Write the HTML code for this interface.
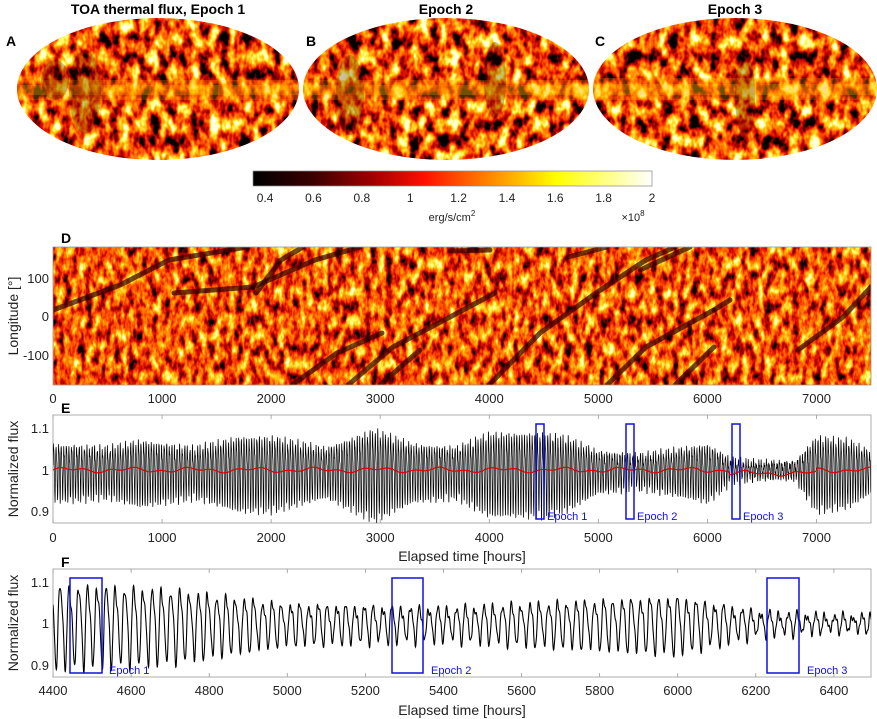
<!DOCTYPE html>
<html><head><meta charset="utf-8">
<style>
html,body{margin:0;padding:0;background:#fff;}
svg{display:block;font-family:"Liberation Sans",sans-serif;}
</style></head>
<body>
<svg id="s" width="877" height="719" viewBox="0 0 877 719" xmlns="http://www.w3.org/2000/svg">
<defs>
<filter id="hotA" x="0" y="0" width="100%" height="100%" color-interpolation-filters="sRGB">
 <feTurbulence type="fractalNoise" baseFrequency="0.1 0.06" numOctaves="3" seed="3"/>
 <feColorMatrix type="matrix" values="2.0 0 0 0 -0.57  2.0 0 0 0 -0.57  2.0 0 0 0 -0.57  0 0 0 0 1"/>
 <feComponentTransfer>
  <feFuncR type="table" tableValues="0 0.55 0.85 1 1 1 1 1"/>
  <feFuncG type="table" tableValues="0 0 0.05 0.3 0.55 0.8 1 1"/>
  <feFuncB type="table" tableValues="0 0 0 0 0 0.1 0.4 0.9"/>
 </feComponentTransfer>
</filter>
<filter id="hotB" x="0" y="0" width="100%" height="100%" color-interpolation-filters="sRGB">
 <feTurbulence type="fractalNoise" baseFrequency="0.1 0.06" numOctaves="3" seed="11"/>
 <feColorMatrix type="matrix" values="2.0 0 0 0 -0.57  2.0 0 0 0 -0.57  2.0 0 0 0 -0.57  0 0 0 0 1"/>
 <feComponentTransfer>
  <feFuncR type="table" tableValues="0 0.55 0.85 1 1 1 1 1"/>
  <feFuncG type="table" tableValues="0 0 0.05 0.3 0.55 0.8 1 1"/>
  <feFuncB type="table" tableValues="0 0 0 0 0 0.1 0.4 0.9"/>
 </feComponentTransfer>
</filter>
<filter id="hotC" x="0" y="0" width="100%" height="100%" color-interpolation-filters="sRGB">
 <feTurbulence type="fractalNoise" baseFrequency="0.1 0.06" numOctaves="3" seed="27"/>
 <feColorMatrix type="matrix" values="2.0 0 0 0 -0.57  2.0 0 0 0 -0.57  2.0 0 0 0 -0.57  0 0 0 0 1"/>
 <feComponentTransfer>
  <feFuncR type="table" tableValues="0 0.55 0.85 1 1 1 1 1"/>
  <feFuncG type="table" tableValues="0 0 0.05 0.3 0.55 0.8 1 1"/>
  <feFuncB type="table" tableValues="0 0 0 0 0 0.1 0.4 0.9"/>
 </feComponentTransfer>
</filter>
<filter id="hotD" x="0" y="0" width="100%" height="100%" color-interpolation-filters="sRGB">
 <feTurbulence type="fractalNoise" baseFrequency="0.14 0.07" numOctaves="3" seed="5"/>
 <feColorMatrix type="matrix" values="1.6 0 0 0 -0.36  1.6 0 0 0 -0.36  1.6 0 0 0 -0.36  0 0 0 0 1"/>
 <feComponentTransfer>
  <feFuncR type="table" tableValues="0 0.55 0.85 1 1 1 1 1"/>
  <feFuncG type="table" tableValues="0 0 0.05 0.3 0.55 0.8 1 1"/>
  <feFuncB type="table" tableValues="0 0 0 0 0 0.1 0.4 0.9"/>
 </feComponentTransfer>
</filter>
<clipPath id="cA"><ellipse cx="158" cy="89" rx="141" ry="71"/></clipPath>
<clipPath id="cB"><ellipse cx="446" cy="89" rx="143" ry="71"/></clipPath>
<clipPath id="cC"><ellipse cx="735" cy="89" rx="142" ry="71"/></clipPath>
<clipPath id="cD"><rect x="53" y="247" width="818" height="138"/></clipPath>
<clipPath id="cE"><rect x="53" y="415" width="818" height="108"/></clipPath>
<clipPath id="cF"><rect x="53" y="569" width="818" height="108"/></clipPath>
<linearGradient id="cb" x1="0" x2="1" y1="0" y2="0">
 <stop offset="0" stop-color="#000"/>
 <stop offset="0.15" stop-color="#3a0000"/>
 <stop offset="0.3" stop-color="#a00000"/>
 <stop offset="0.43" stop-color="#ff1000"/>
 <stop offset="0.6" stop-color="#ff8c00"/>
 <stop offset="0.76" stop-color="#ffff00"/>
 <stop offset="1" stop-color="#ffffff"/>
</linearGradient>
</defs>

<g font-weight="bold" font-size="14" text-anchor="middle">
<text x="158" y="14">TOA thermal flux,  Epoch 1</text>
<text x="446" y="14">Epoch 2</text>
<text x="735" y="14">Epoch 3</text>
</g>
<g font-weight="bold" font-size="14">
<text x="6" y="46">A</text><text x="306" y="46">B</text><text x="595" y="46">C</text>
</g>

<g clip-path="url(#cA)">
 <rect x="17" y="18" width="282" height="142" filter="url(#hotA)"/>
 <rect x="17" y="80" width="282" height="20" fill="#ffb000" opacity="0.25"/>
 <rect x="17" y="85" width="282" height="10" fill="#ffc000" opacity="0.25"/>
 <g fill="#2a0000" opacity="0.25"><ellipse cx="85" cy="92" rx="16" ry="42"/><ellipse cx="85" cy="92" rx="11" ry="32"/><ellipse cx="55" cy="80" rx="14" ry="20"/></g>
</g>
<g clip-path="url(#cB)">
 <rect x="303" y="18" width="286" height="142" filter="url(#hotB)"/>
 <rect x="303" y="80" width="286" height="20" fill="#ffb000" opacity="0.25"/>
 <rect x="303" y="85" width="286" height="10" fill="#ffc000" opacity="0.25"/>
 <g fill="#2a0000" opacity="0.25"><ellipse cx="350" cy="95" rx="14" ry="40"/><ellipse cx="350" cy="95" rx="9" ry="30"/><ellipse cx="495" cy="80" rx="11" ry="38"/><ellipse cx="495" cy="80" rx="7" ry="28"/></g>
</g>
<g clip-path="url(#cC)">
 <rect x="593" y="18" width="284" height="142" filter="url(#hotC)"/>
 <rect x="593" y="78" width="284" height="22" fill="#ffb000" opacity="0.25"/>
 <rect x="593" y="84" width="284" height="11" fill="#ffc000" opacity="0.25"/>
 <g fill="#2a0000" opacity="0.25"><ellipse cx="745" cy="95" rx="10" ry="42"/><ellipse cx="745" cy="95" rx="6" ry="32"/></g>
</g>

<rect x="253" y="171" width="399" height="15" fill="url(#cb)" stroke="#888" stroke-width="0.7"/>
<g id="cbt" font-size="12" fill="#222" text-anchor="middle"></g>
<text x="452" y="221" font-size="11" text-anchor="middle" fill="#222">erg/s/cm<tspan dy="-5" font-size="8">2</tspan></text>
<text x="633" y="221" font-size="11" text-anchor="middle" fill="#222">×10<tspan dy="-5" font-size="8">8</tspan></text>

<text x="61" y="243" font-weight="bold" font-size="14">D</text>
<g clip-path="url(#cD)">
 <rect x="53" y="247" width="818" height="138" filter="url(#hotD)"/>
 <g id="streaks" fill="none" stroke="#300000" stroke-width="5" stroke-linecap="round" stroke-linejoin="round" stroke-opacity="0.7"></g>
</g>
<rect x="53" y="247" width="818" height="138" fill="none" stroke="#999" stroke-width="0.8"/>
<g font-size="13" fill="#222" text-anchor="end">
 <text x="49" y="283">100</text><text x="49" y="321">0</text><text x="49" y="360">-100</text>
</g>
<text transform="translate(18,316) rotate(-90)" font-size="14" text-anchor="middle" fill="#222">Longitude [°]</text>
<g id="dx" font-size="13" fill="#222" text-anchor="middle"></g>

<text x="61" y="413" font-weight="bold" font-size="14">E</text>
<rect x="53" y="415" width="818" height="108" fill="#fff" stroke="#999" stroke-width="0.8"/>
<g id="eTicks" stroke="#999" stroke-width="0.8"></g>
<g clip-path="url(#cE)">
 <path id="eP" fill="none" stroke="#000" stroke-width="0.7"/>
 <path id="eR" fill="none" stroke="#e00000" stroke-width="1.2"/>
</g>
<g fill="none" stroke="#1010e0" stroke-width="1.5">
 <rect x="536" y="424" width="8" height="95"/><rect x="626" y="424" width="8" height="95"/><rect x="732" y="424" width="8" height="95"/>
</g>
<g fill="#1010e0" font-size="11">
 <text x="547" y="520">Epoch 1</text><text x="637" y="520">Epoch 2</text><text x="743" y="520">Epoch 3</text>
</g>
<g font-size="13" fill="#222" text-anchor="end">
 <text x="49" y="433">1.1</text><text x="49" y="475">1</text><text x="49" y="516">0.9</text>
</g>
<text transform="translate(18,469) rotate(-90)" font-size="14" text-anchor="middle" fill="#222">Normalized flux</text>
<g id="ex" font-size="13" fill="#222" text-anchor="middle"></g>
<text x="462" y="561" font-size="14" text-anchor="middle" fill="#222">Elapsed time [hours]</text>

<text x="61" y="567" font-weight="bold" font-size="14">F</text>
<rect x="53" y="569" width="818" height="108" fill="#fff" stroke="#999" stroke-width="0.8"/>
<g id="fTicks" stroke="#999" stroke-width="0.8"></g>
<g clip-path="url(#cF)">
 <path id="fP" fill="none" stroke="#000" stroke-width="1.1"/>
</g>
<g fill="none" stroke="#1010e0" stroke-width="1.5">
 <rect x="70" y="578" width="32" height="95"/><rect x="392" y="578" width="31" height="95"/><rect x="767" y="578" width="32" height="95"/>
</g>
<g fill="#1010e0" font-size="11">
 <text x="109" y="674">Epoch 1</text><text x="431" y="674">Epoch 2</text><text x="807" y="674">Epoch 3</text>
</g>
<g font-size="13" fill="#222" text-anchor="end">
 <text x="49" y="587">1.1</text><text x="49" y="628">1</text><text x="49" y="670">0.9</text>
</g>
<text transform="translate(18,623) rotate(-90)" font-size="14" text-anchor="middle" fill="#222">Normalized flux</text>
<g id="fx" font-size="13" fill="#222" text-anchor="middle"></g>
<text x="462" y="715" font-size="14" text-anchor="middle" fill="#222">Elapsed time [hours]</text>
</svg>
<script>
(function(){
var NS="http://www.w3.org/2000/svg";
function T(g,x,y,s){var t=document.createElementNS(NS,"text");t.setAttribute("x",x);t.setAttribute("y",y);t.textContent=s;document.getElementById(g).appendChild(t);}
function L(g,x1,y1,x2,y2){var l=document.createElementNS(NS,"line");l.setAttribute("x1",x1);l.setAttribute("y1",y1);l.setAttribute("x2",x2);l.setAttribute("y2",y2);document.getElementById(g).appendChild(l);}
["0.4","0.6","0.8","1","1.2","1.4","1.6","1.8","2"].forEach(function(s,i){var v=0.4+0.2*i;var x=253+(v-0.35)/1.65*399;T("cbt",x,202,s);});
var ex=function(h){return 53+h/7500*818;};
for(var h=0;h<=7000;h+=1000){T("dx",ex(h),403,h);T("ex",ex(h),542,h);L("eTicks",ex(h),415,ex(h),419);L("eTicks",ex(h),523,ex(h),519);}
var fx=function(h){return 53+(h-4400)/2095*818;};
for(var h=4400;h<=6400;h+=200){T("fx",fx(h),695,h);L("fTicks",fx(h),569,fx(h),573);L("fTicks",fx(h),677,fx(h),673);}
var st=[[[53,310],[120,285],[169,260],[247,247]],[[174,293],[253,287],[315,260],[360,247]],[[256,293],[281,260],[303,247]],
[[292,385],[337,353],[382,333]],[[348,385],[393,347],[450,317],[495,293]],[[489,385],[540,333],[596,293],[646,260],[675,247]],
[[450,251],[490,250]],[[568,257],[607,247]],[[607,385],[646,347],[714,310]],[[675,385],[714,347]],[[798,350],[843,317],[871,287]],
[[640,270],[690,247]],[[380,385],[420,350]],[[714,310],[730,300]]];
var sg=document.getElementById("streaks");
st.forEach(function(p){var e=document.createElementNS(NS,"polyline");e.setAttribute("points",p.map(function(q){return q.join(",")}).join(" "));sg.appendChild(e);});
var env=[[0,.07],[500,.06],[800,.08],[1300,.06],[1700,.09],[2000,.09],[2500,.06],[2950,.11],[3300,.07],[3700,.06],[4000,.10],[4500,.10],[4700,.09],[5000,.05],[5400,.04],[5600,.05],[6000,.07],[6200,.03],[6400,.02],[6800,.02],[7000,.09],[7300,.08],[7500,.05]];
function A(h){for(var i=1;i<env.length;i++){if(h<=env[i][0]){var a=env[i-1],b=env[i];return a[1]+(b[1]-a[1])*(h-a[0])/(b[0]-a[0]);}}return .05;}
function f(h){var ph=h/23.6*2*Math.PI;var s=Math.sin(ph)+0.25*Math.sin(2*ph+0.8);var n=(Math.sin(h*0.37)+Math.sin(h*0.91))*0.006;return 1+A(h)*s/1.1+n;}
var d="";for(var h=0;h<=7500;h+=1){var y=470-(f(h)-1)*415;d+=(h?"L":"M")+ex(h).toFixed(1)+","+y.toFixed(1);}
document.getElementById("eP").setAttribute("d",d);
var r="";for(var h=0;h<=7500;h+=12){var m=1+0.004*Math.sin(h/90)+0.003*Math.sin(h/37)-(h>6200&&h<7000?0.008:0);r+=(h?"L":"M")+ex(h).toFixed(1)+","+(470-(m-1)*415).toFixed(1);}
document.getElementById("eR").setAttribute("d",r);
var q="";for(var h=4400;h<=6500;h+=0.5){var y=623-(f(h)-1)*415;q+=(h>4400?"L":"M")+fx(h).toFixed(1)+","+y.toFixed(1);}
document.getElementById("fP").setAttribute("d",q);
})();
</script>
</body></html>
